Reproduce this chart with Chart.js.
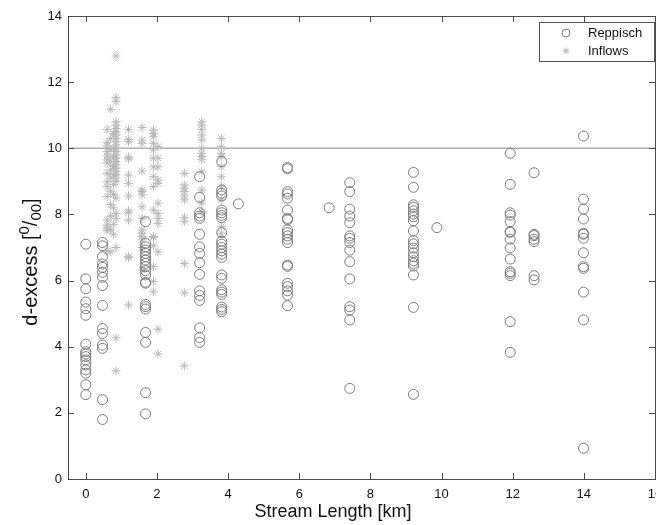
<!DOCTYPE html>
<html>
<head>
<meta charset="utf-8">
<script src="https://cdn.jsdelivr.net/npm/chart.js@4.4.1/dist/chart.umd.min.js"></script>
<style>
html,body{margin:0;padding:0;background:#fff;overflow:hidden;}
#wrap{position:relative;width:656px;height:525px;overflow:hidden;}
</style>
</head>
<body>
<div id="wrap"><canvas id="c" width="661" height="525"></canvas></div>
<script>
// ---- data ----
const xTickValues = [0, 2, 4, 6, 8, 10, 12, 14, 16];
const yTickValues = [0, 2, 4, 6, 8, 10, 12, 14];
const referenceLevel = 10;

const reppischStations = [0, 0.47, 1.68, 3.2, 3.82, 4.29, 5.67, 6.84, 7.42, 9.21, 9.87, 11.93, 12.6, 13.99];
const reppischValues = [
  [7.1, 6.05, 5.75, 5.35, 5.15, 4.95, 4.08, 3.85, 3.78, 3.7, 3.6, 3.45, 3.3, 3.2, 2.85, 2.55],
  [7.15, 7.05, 6.72, 6.5, 6.4, 6.25, 6.1, 5.85, 5.25, 4.55, 4.4, 4.05, 3.95, 2.4, 1.8],
  [7.78, 7.13, 7.02, 6.92, 6.82, 6.72, 6.62, 6.52, 6.42, 6.3, 6.17, 5.95, 5.92, 5.28, 5.21, 5.14, 4.43, 4.13, 2.61, 1.97],
  [9.14, 8.52, 8.05, 7.95, 7.88, 7.4, 7.02, 6.82, 6.54, 6.19, 5.69, 5.55, 5.4, 4.57, 4.28, 4.13],
  [9.6, 8.74, 8.64, 8.56, 8.13, 8.05, 7.97, 7.9, 7.45, 7.19, 7.1, 7.0, 6.9, 6.8, 6.7, 6.17, 6.07, 5.72, 5.65, 5.58, 5.2, 5.13, 5.06],
  [8.32],
  [9.42, 9.38, 8.69, 8.62, 8.49, 8.13, 7.88, 7.84, 7.53, 7.45, 7.35, 7.25, 7.15, 6.47, 6.43, 5.92, 5.82, 5.69, 5.56, 5.24],
  [8.2],
  [8.96, 8.69, 8.16, 7.95, 7.75, 7.35, 7.28, 7.15, 6.92, 6.57, 6.05, 5.21, 5.11, 4.81, 2.74],
  [9.27, 8.82, 8.29, 8.22, 8.11, 8.01, 7.93, 7.81, 7.5, 7.21, 7.11, 6.98, 6.84, 6.72, 6.6, 6.52, 6.44, 6.17, 5.19, 2.56],
  [7.6],
  [9.85, 8.91, 8.05, 7.98, 7.78, 7.48, 7.46, 7.25, 6.99, 6.65, 6.27, 6.22, 6.15, 4.76, 3.83],
  [9.26, 7.4, 7.36, 7.25, 7.18, 6.15, 6.02],
  [10.37, 8.46, 8.16, 7.86, 7.43, 7.4, 7.28, 6.84, 6.42, 6.37, 5.65, 4.81, 0.93]
];

const inflowStations = [0.6, 0.7, 0.78, 0.85, 1.2, 1.58, 1.9, 2.03, 2.77, 3.26, 3.81];
const inflowValues = [
  [10.57, 10.17, 10.07, 9.9, 9.77, 9.65, 9.55, 9.24, 8.99, 8.84, 8.54, 7.83, 7.68, 7.58, 7.51, 6.9],
  [11.18, 10.3, 9.95, 9.6, 9.35, 9.1, 8.7, 8.3, 7.95, 7.53, 6.87],
  [10.45, 10.0, 9.75, 9.45, 9.2, 8.9, 8.6, 8.2, 7.7, 7.4],
  [12.79, 11.54, 11.41, 10.8, 10.7, 10.6, 10.5, 10.4, 10.3, 10.2, 10.1, 10.0, 9.9, 9.8, 9.7, 9.6, 9.5, 9.4, 9.3, 9.2, 9.1, 9.0, 8.5, 8.03, 7.88, 7.0, 4.27, 3.27],
  [10.57, 10.27, 10.2, 9.73, 9.68, 9.19, 8.94, 8.56, 8.11, 8.05, 7.83, 6.72, 6.7, 5.26],
  [10.63, 10.25, 10.15, 9.31, 8.74, 8.69, 8.59, 8.23, 7.88, 7.53, 7.43, 7.33, 7.23, 7.0, 6.32],
  [10.55, 10.45, 10.35, 10.15, 9.95, 9.7, 9.44, 9.14, 8.84, 8.13, 7.33, 7.31, 7.05, 6.42, 5.97, 5.66],
  [10.05, 9.7, 9.44, 9.04, 8.94, 8.34, 8.03, 7.88, 7.73, 6.87, 4.53, 3.78],
  [9.24, 8.89, 8.79, 8.69, 8.56, 8.44, 7.91, 7.78, 6.52, 5.63, 3.42],
  [10.8, 10.7, 10.57, 10.4, 10.25, 10.0, 9.85, 9.75, 9.65, 9.29, 8.74, 8.34, 8.08],
  [10.3, 10.05, 9.85, 9.75, 9.44, 9.14, 8.84, 8.44, 7.63, 7.43]
];

const seriesNames = ['Reppisch', 'Inflows'];
const xTitle = 'Stream Length [km]';
// y title pieces: [text, role] -> normal / sup / sub
const yTitleParts = [['d-excess [', 'n'], ['0', 'sup'], ['/', 'n'], ['00', 'sub'], [']', 'n']];

// ---- build ----
function toPoints(stations, values) {
  const pts = [];
  stations.forEach((s, i) => values[i].forEach(v => pts.push({x: s, y: v})));
  return pts;
}

const XMIN = -0.5, XMAX = 16, YMIN = 0, YMAX = 14;
const FONT = "'Liberation Sans', Arial, Helvetica, sans-serif";
const circleColor = '#7a7a7a';
const starColor = '#b8b8b8';

const frame = {
  id: 'frame',
  afterDatasetsDraw(chart) {
    const {ctx, chartArea: a, scales: {x, y}} = chart;
    ctx.save();
    ctx.strokeStyle = '#4a4a4a';
    ctx.lineWidth = 1;
    const tl = 6;
    ctx.beginPath();
    xTickValues.forEach(v => {
      const px = Math.round(x.getPixelForValue(v)) + 0.5;
      ctx.moveTo(px, a.bottom); ctx.lineTo(px, a.bottom - tl);
      ctx.moveTo(px, a.top); ctx.lineTo(px, a.top + tl);
    });
    yTickValues.forEach(v => {
      const py = Math.round(y.getPixelForValue(v)) + 0.5;
      ctx.moveTo(a.left, py); ctx.lineTo(a.left + tl, py);
      ctx.moveTo(a.right, py); ctx.lineTo(a.right - tl, py);
    });
    ctx.stroke();
    ctx.strokeRect(Math.round(a.left) + 0.5, Math.round(a.top) + 0.5,
                   Math.round(a.right - a.left), Math.round(a.bottom - a.top));

    // legend
    const lx = a.right - 116, ly = a.top + 6, lw = 115, lh = 39;
    ctx.fillStyle = '#fff';
    ctx.fillRect(lx, ly, lw, lh);
    ctx.strokeStyle = '#555';
    ctx.strokeRect(Math.round(lx) + 0.5, Math.round(ly) + 0.5, lw, lh);
    ctx.font = '13px ' + FONT;
    ctx.fillStyle = '#111';
    ctx.textBaseline = 'middle';
    ctx.textAlign = 'left';
    const sx = lx + 27;
    const r1 = ly + 11, r2 = ly + 29;
    ctx.fillText(seriesNames[0], lx + 49, r1);
    ctx.fillText(seriesNames[1], lx + 49, r2);
    ctx.strokeStyle = circleColor;
    ctx.beginPath(); ctx.arc(sx, r1, 4, 0, Math.PI * 2); ctx.stroke();
    ctx.strokeStyle = starColor;
    Chart.helpers.drawPoint(ctx, {pointStyle: 'star', radius: 3.5, rotation: 0, borderWidth: 1}, sx, r2);

    // x axis title
    ctx.fillStyle = '#111';
    ctx.font = '18px ' + FONT;
    ctx.textAlign = 'center';
    ctx.textBaseline = 'middle';
    ctx.fillText(xTitle, 333, 512);

    // y axis title (rotated, with super/subscript)
    const big = '20px ' + FONT, small = '15px ' + FONT;
    let total = 0;
    const widths = yTitleParts.map(([t, r]) => {
      ctx.font = r === 'n' ? big : small;
      const w = ctx.measureText(t).width;
      total += w;
      return w;
    });
    ctx.translate(30, 262);
    ctx.rotate(-Math.PI / 2);
    ctx.textAlign = 'left';
    ctx.textBaseline = 'alphabetic';
    let cx = -total / 2;
    const base = 7;
    yTitleParts.forEach(([t, r], i) => {
      ctx.font = r === 'n' ? big : small;
      const dy = r === 'sup' ? -8 : (r === 'sub' ? 4 : 0);
      ctx.fillText(t, cx, base + dy);
      cx += widths[i];
    });
    ctx.restore();
  }
};

new Chart(document.getElementById('c'), {
  type: 'scatter',
  data: {
    datasets: [
      {
        label: 'ref',
        type: 'line',
        data: [{x: XMIN, y: referenceLevel}, {x: XMAX, y: referenceLevel}],
        borderColor: '#b0b0b0',
        borderWidth: 1.5,
        pointRadius: 0,
        order: 3
      },
      {
        label: seriesNames[1],
        data: toPoints(inflowStations, inflowValues),
        pointStyle: 'star',
        pointRadius: 4.5,
        borderColor: starColor,
        backgroundColor: starColor,
        borderWidth: 1,
        order: 2
      },
      {
        label: seriesNames[0],
        data: toPoints(reppischStations, reppischValues),
        pointStyle: 'circle',
        pointRadius: 5,
        borderColor: circleColor,
        backgroundColor: 'rgba(0,0,0,0)',
        borderWidth: 1,
        order: 1
      }
    ]
  },
  options: {
    responsive: false,
    animation: false,
    devicePixelRatio: 1,
    layout: {padding: {top: 16, right: 1, left: 0, bottom: 0}},
    plugins: {legend: {display: false}, tooltip: {enabled: false}},
    scales: {
      x: {
        type: 'linear', min: XMIN, max: XMAX,
        grid: {display: false, drawTicks: false},
        border: {display: false},
        ticks: {stepSize: 2, includeBounds: false, padding: 8, color: '#111', font: {family: FONT, size: 13}, maxRotation: 0, autoSkip: false},
        title: {display: false},
        afterFit(s) { s.height = 46; s.paddingLeft = 0; s.paddingRight = 0; }
      },
      y: {
        type: 'linear', min: YMIN, max: YMAX,
        grid: {display: false, drawTicks: false},
        border: {display: false},
        ticks: {stepSize: 2, padding: 6, color: '#111', font: {family: FONT, size: 13}},
        title: {display: false},
        afterFit(s) { s.width = 68; s.paddingTop = 0; s.paddingBottom = 0; }
      }
    }
  },
  plugins: [frame]
});
</script>
</body>
</html>
